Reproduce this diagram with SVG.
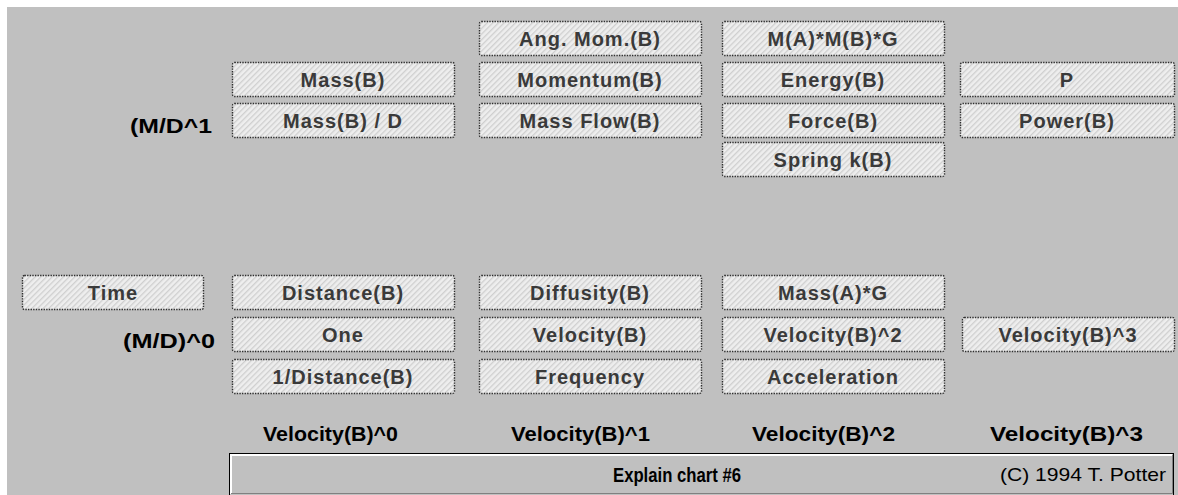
<svg xmlns="http://www.w3.org/2000/svg" width="1178" height="495" viewBox="0 0 1178 495">
<defs>
<pattern id="dith" width="4" height="4" patternUnits="userSpaceOnUse" patternTransform="rotate(45)">
<rect width="4" height="4" fill="#eeeeee"/>
<rect width="1.3" height="4" fill="#cfcfcf"/>
</pattern>
<style>
.btn rect{fill:url(#dith);stroke:#2e2e2e;stroke-width:1.4;stroke-dasharray:1.4 1.2}
.btn text{font-family:"Liberation Sans",Arial,sans-serif;font-weight:bold;font-size:20px;fill:#3a3a3a;text-anchor:middle;letter-spacing:1px}
.lbl{font-family:"Liberation Sans",Arial,sans-serif;font-weight:bold;font-size:21px;fill:#000}
.ax{text-anchor:middle}
</style>
</defs>
<rect width="1178" height="495" fill="#ffffff"/>
<rect x="7" y="7" width="1171" height="488" fill="#c0c0c0"/>

<g id="nodes">
<g id="n-angmom" class="btn"><rect x="479.5" y="21.5" width="222" height="34" rx="2"/><text x="590" y="46">Ang. Mom.(B)</text></g>
<g id="n-mamb" class="btn"><rect x="722.5" y="21.5" width="222" height="34" rx="2"/><text x="833" y="46">M(A)*M(B)*G</text></g>

<g id="n-mass" class="btn"><rect x="232.5" y="62.5" width="222" height="34" rx="2"/><text x="343" y="87">Mass(B)</text></g>
<g id="n-momentum" class="btn"><rect x="479.5" y="62.5" width="222" height="34" rx="2"/><text x="590" y="87">Momentum(B)</text></g>
<g id="n-energy" class="btn"><rect x="722.5" y="62.5" width="222" height="34" rx="2"/><text x="833" y="87">Energy(B)</text></g>
<g id="n-p" class="btn"><rect x="960.5" y="62.5" width="214" height="34" rx="2"/><text x="1067" y="87">P</text></g>

<g id="n-massd" class="btn"><rect x="232.5" y="103.5" width="222" height="34" rx="2"/><text x="343" y="128">Mass(B) / D</text></g>
<g id="n-massflow" class="btn"><rect x="479.5" y="103.5" width="222" height="34" rx="2"/><text x="590" y="128">Mass Flow(B)</text></g>
<g id="n-force" class="btn"><rect x="722.5" y="103.5" width="222" height="34" rx="2"/><text x="833" y="128">Force(B)</text></g>
<g id="n-power" class="btn"><rect x="960.5" y="103.5" width="214" height="34" rx="2"/><text x="1067" y="128">Power(B)</text></g>

<g id="n-spring" class="btn"><rect x="722.5" y="142.5" width="222" height="34" rx="2"/><text x="833" y="167">Spring k(B)</text></g>

<g id="n-time" class="btn"><rect x="22.5" y="275.5" width="181" height="34" rx="2"/><text x="113" y="300">Time</text></g>
<g id="n-distance" class="btn"><rect x="232.5" y="275.5" width="222" height="34" rx="2"/><text x="343" y="300">Distance(B)</text></g>
<g id="n-diffusity" class="btn"><rect x="479.5" y="275.5" width="222" height="34" rx="2"/><text x="590" y="300">Diffusity(B)</text></g>
<g id="n-massag" class="btn"><rect x="722.5" y="275.5" width="222" height="34" rx="2"/><text x="833" y="300">Mass(A)*G</text></g>

<g id="n-one" class="btn"><rect x="232.5" y="317.5" width="222" height="34" rx="2"/><text x="343" y="342">One</text></g>
<g id="n-velocity" class="btn"><rect x="479.5" y="317.5" width="222" height="34" rx="2"/><text x="590" y="342">Velocity(B)</text></g>
<g id="n-velocity2" class="btn"><rect x="722.5" y="317.5" width="222" height="34" rx="2"/><text x="833" y="342">Velocity(B)^2</text></g>
<g id="n-velocity3" class="btn"><rect x="962.5" y="317.5" width="212" height="34" rx="2"/><text x="1068" y="342">Velocity(B)^3</text></g>

<g id="n-invdist" class="btn"><rect x="232.5" y="359.5" width="222" height="34" rx="2"/><text x="343" y="384">1/Distance(B)</text></g>
<g id="n-frequency" class="btn"><rect x="479.5" y="359.5" width="222" height="34" rx="2"/><text x="590" y="384">Frequency</text></g>
<g id="n-accel" class="btn"><rect x="722.5" y="359.5" width="222" height="34" rx="2"/><text x="833" y="384">Acceleration</text></g>
</g>

<g id="connectors"></g>

<g id="labels">
<text class="lbl" x="130" y="133" textLength="82" lengthAdjust="spacingAndGlyphs">(M/D^1</text>
<text class="lbl" x="123" y="348" textLength="92" lengthAdjust="spacingAndGlyphs">(M/D)^0</text>
<text class="lbl" x="263" y="441" textLength="135" lengthAdjust="spacingAndGlyphs">Velocity(B)^0</text>
<text class="lbl" x="511" y="441" textLength="139" lengthAdjust="spacingAndGlyphs">Velocity(B)^1</text>
<text class="lbl" x="752" y="441" textLength="143" lengthAdjust="spacingAndGlyphs">Velocity(B)^2</text>
<text class="lbl" x="990" y="441" textLength="153" lengthAdjust="spacingAndGlyphs">Velocity(B)^3</text>
</g>

<g id="status">
<rect x="229.5" y="453.5" width="944" height="42" fill="#c0c0c0" stroke="#000" stroke-width="1"/>
<path d="M231 494 V455 H1172" fill="none" stroke="#ffffff" stroke-width="2"/>
<path d="M231 493.5 H1172.5 V455" fill="none" stroke="#808080" stroke-width="1"/>
<text class="lbl" x="613" y="482" textLength="128" lengthAdjust="spacingAndGlyphs">Explain chart #6</text>
<text x="1000" y="481" textLength="166" lengthAdjust="spacingAndGlyphs" font-family="'Liberation Sans',Arial,sans-serif" font-size="19" fill="#000">(C) 1994 T. Potter</text>
</g>
</svg>
